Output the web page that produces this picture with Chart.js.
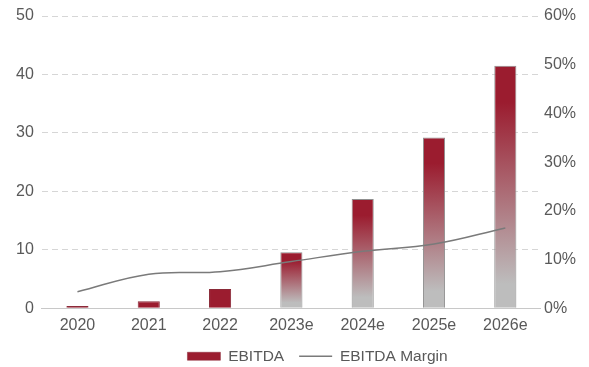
<!DOCTYPE html>
<html>
<head>
<meta charset="utf-8">
<script src="https://cdn.jsdelivr.net/npm/chart.js@4/dist/chart.umd.min.js"></script>
<style>
html,body{margin:0;padding:0;background:#fff;}
#wrap{width:589px;height:367px;}
</style>
</head>
<body>
<div id="wrap"><canvas id="c"></canvas></div>
<script>
const categories = ['2020','2021','2022','2023e','2024e','2025e','2026e'];
const ebitda = [0.4, 1.2, 3.3, 9.6, 18.7, 29.2, 41.5];
const ebitdaMargin = [3.4, 7.0, 7.5, 9.6, 11.7, 13.2, 16.5];
const leftTicks = [0, 10, 20, 30, 40, 50];
const rightTicks = [0, 10, 20, 30, 40, 50, 60];

const RED = '#9b1c2f';
const GRAY = '#bdbdbd';
const TEXT = '#595959';
Chart.defaults.font.family = '"Liberation Sans", Arial, sans-serif';
Chart.defaults.font.size = 16;
Chart.defaults.color = TEXT;

function barHeightPx(ctx) {
  const chart = ctx.chart;
  if (!chart.chartArea || !chart.scales.y || ctx.type !== 'data') return 0;
  const ys = chart.scales.y;
  return ys.getPixelForValue(0) - ys.getPixelForValue(ctx.raw);
}

function barFill(ctx) {
  const h = barHeightPx(ctx);
  if (h < 30) return RED;
  const ys = ctx.chart.scales.y;
  const top = ys.getPixelForValue(ctx.raw), base = ys.getPixelForValue(0);
  const g = ctx.chart.ctx.createLinearGradient(0, top, 0, base);
  g.addColorStop(0, RED);
  g.addColorStop(0.15, RED);
  g.addColorStop(0.9, GRAY);
  g.addColorStop(1, GRAY);
  return g;
}

function barBorder(ctx) {
  return barHeightPx(ctx) < 30 ? '#8a2a38' : '#8f8f8f';
}

const legendShift = {
  id: 'legendShift',
  afterLayout(chart) {
    if (chart.legend) { chart.legend.left += 24; chart.legend.right += 24; }
  }
};

new Chart(document.getElementById('c'), {
  plugins: [legendShift],
  data: {
    labels: categories,
    datasets: [
      {
        type: 'bar', label: 'EBITDA', data: ebitda, yAxisID: 'y', order: 1,
        backgroundColor: barFill, borderColor: barBorder, borderWidth: 1,
        barPercentage: 0.31, categoryPercentage: 1
      },
      {
        type: 'line', label: 'EBITDA Margin', data: ebitdaMargin, yAxisID: 'y1', order: 0,
        borderColor: '#7a7a7a', backgroundColor: '#7a7a7a', borderWidth: 1.5,
        pointRadius: 0, tension: 0.4, fill: false
      }
    ]
  },
  options: {
    responsive: true, maintainAspectRatio: false, animation: false,
    layout: { padding: { left: 8, right: 10, top: 0, bottom: -7 } },
    plugins: {
      tooltip: { enabled: false },
      legend: {
        position: 'bottom',
        labels: {
          usePointStyle: true, pointStyleWidth: 33, boxHeight: 8, padding: 15,
          font: { size: 15.5 },
          sort: (a, b) => a.datasetIndex - b.datasetIndex,
          generateLabels: (chart) => chart.data.datasets.map((ds, i) => ({
            text: ds.label,
            fillStyle: ds.type === 'bar' ? RED : 'transparent',
            strokeStyle: ds.type === 'bar' ? '#8a2a38' : '#7a7a7a',
            lineWidth: ds.type === 'bar' ? 0.5 : 1.5,
            pointStyle: ds.type === 'bar' ? 'rect' : 'line',
            fontColor: TEXT,
            datasetIndex: i, hidden: false
          }))
        }
      }
    },
    scales: {
      x: {
        grid: { display: false, drawTicks: false },
        border: { display: true, color: '#c8c8c8', width: 1 },
        ticks: { padding: 8, color: TEXT },
        afterFit: (s) => { s.height -= 10; }
      },
      y: {
        position: 'left', min: 0, max: 50,
        afterBuildTicks: (s) => { s.ticks = leftTicks.map(v => ({ value: v })); },
        grid: { color: '#d6d6d6', drawTicks: false, lineWidth: 1 },
        border: { display: false, dash: [6, 4] },
        ticks: { padding: 8, color: TEXT, font: { size: 16, lineHeight: 1 } }
      },
      y1: {
        position: 'right', min: 0, max: 60,
        afterBuildTicks: (s) => { s.ticks = rightTicks.map(v => ({ value: v })); },
        grid: { display: false, drawTicks: false },
        border: { display: false },
        ticks: { padding: 3, color: TEXT, font: { size: 16, lineHeight: 1 }, callback: (v) => v + '%' }
      }
    }
  }
});
</script>
</body>
</html>
